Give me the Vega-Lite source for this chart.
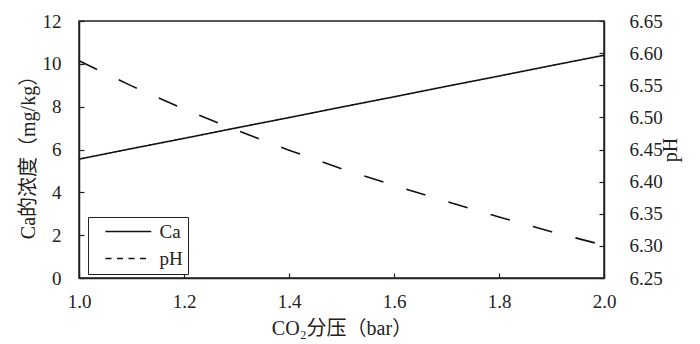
{
  "$schema": "https://vega.github.io/schema/vega-lite/v6.json",
  "autosize": "none",
  "width": 525,
  "height": 257,
  "padding": {"left": 79, "top": 21, "right": 96, "bottom": 66},
  "background": "white",
  "config": {
    "font": "Liberation Serif",
    "view": {"stroke": "#222", "strokeWidth": 1.5},
    "axis": {
      "grid": false,
      "domainColor": "#222",
      "domainWidth": 1.5,
      "tickColor": "#222",
      "tickWidth": 1.2,
      "tickSize": -5,
      "labelFont": "Liberation Serif",
      "labelFontSize": 19,
      "labelColor": "#222",
      "labelFlush": false,
      "titleFont": "Liberation Serif, Noto Sans CJK SC",
      "titleFontSize": 20,
      "titleFontWeight": "normal",
      "titleColor": "#222"
    }
  },
  "data": {
    "values": [
      {"p": 1.0, "Ca": 5.55, "pH": 6.588},
      {"p": 1.1, "Ca": 6.04, "pH": 6.549},
      {"p": 1.2, "Ca": 6.52, "pH": 6.513},
      {"p": 1.3, "Ca": 7.01, "pH": 6.480},
      {"p": 1.4, "Ca": 7.49, "pH": 6.449},
      {"p": 1.5, "Ca": 7.98, "pH": 6.420},
      {"p": 1.6, "Ca": 8.46, "pH": 6.394},
      {"p": 1.7, "Ca": 8.95, "pH": 6.369},
      {"p": 1.8, "Ca": 9.43, "pH": 6.345},
      {"p": 1.9, "Ca": 9.92, "pH": 6.322},
      {"p": 2.0, "Ca": 10.40, "pH": 6.301}
    ]
  },
  "encoding": {
    "x": {
      "field": "p",
      "type": "quantitative",
      "scale": {"domain": [1, 2], "nice": false, "zero": false},
      "axis": {
        "title": "CO₂分压（bar）",
        "values": [1.0, 1.2, 1.4, 1.6, 1.8, 2.0],
        "format": ".1f",
        "labelPadding": 19,
        "titlePadding": 7
      }
    }
  },
  "layer": [
    {
      "mark": {"type": "line", "color": "#111", "strokeWidth": 1.6},
      "encoding": {
        "y": {
          "field": "Ca",
          "type": "quantitative",
          "scale": {"domain": [0, 12], "nice": false},
          "axis": {
            "title": "Ca的浓度（mg/kg）",
            "values": [0, 2, 4, 6, 8, 10, 12],
            "labelPadding": 23,
            "titleX": -51,
            "titleY": 131,
            "titleAngle": 270,
            "titleAlign": "center",
            "titleBaseline": "middle"
          }
        },
        "strokeDash": {
          "datum": "Ca",
          "type": "nominal",
          "scale": {"domain": ["Ca", "pH"], "range": [[1, 0], [6, 5.5]]},
          "legend": {
            "title": null,
            "orient": "none",
            "legendX": 9,
            "legendY": 196,
            "strokeColor": "#222",
            "fillColor": "white",
            "padding": 5,
            "symbolType": "M0.64,0H10.4",
            "symbolSize": 88,
            "symbolStrokeWidth": 1.5,
            "symbolStrokeColor": "#111",
            "labelFont": "Liberation Serif",
            "labelFontSize": 19,
            "labelColor": "#222",
            "labelOffset": 47.6,
            "rowPadding": 7
          }
        }
      }
    },
    {
      "mark": {"type": "line", "color": "#111", "strokeWidth": 1.6, "strokeDash": [20, 24]},
      "encoding": {
        "y": {
          "field": "pH",
          "type": "quantitative",
          "scale": {"domain": [6.25, 6.65], "nice": false, "zero": false},
          "axis": {
            "orient": "right",
            "title": "pH",
            "labelPadding": 30,
            "titleX": 66,
            "titleY": 128.5,
            "titleAngle": 270,
            "titleAlign": "center",
            "titleBaseline": "middle",
            "values": [6.25, 6.3, 6.35, 6.4, 6.45, 6.5, 6.55, 6.6, 6.65],
            "format": ".2f"
          }
        }
      }
    }
  ],
  "resolve": {"scale": {"y": "independent"}}
}
